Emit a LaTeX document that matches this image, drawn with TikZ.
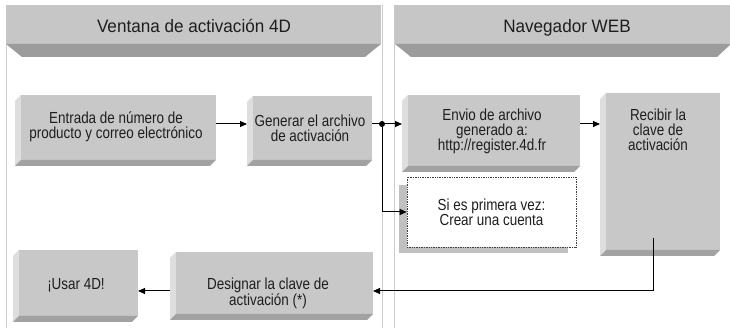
\documentclass[tikz,border=0pt]{standalone}
\usepackage{fontspec}
\setmainfont{Liberation Sans}
\newfontfamily\boxfont[FakeStretch=0.84]{Liberation Sans}
\newfontfamily\hdrfont[FakeStretch=0.95]{Liberation Sans}
\usetikzlibrary{arrows.meta,calc}
\definecolor{frontc}{HTML}{C8C8C8}
\definecolor{leftc}{HTML}{DEDEDE}
\definecolor{bottomc}{HTML}{A2A2A2}
\definecolor{hdrc}{HTML}{C6C6C6}
\definecolor{hdrdark}{HTML}{9C9C9C}
\definecolor{lanec}{HTML}{CBCBCB}
\definecolor{shadowc}{HTML}{C0C0C0}
\definecolor{txtc}{HTML}{1E1E1E}
\definecolor{dotc}{HTML}{404040}
\newcommand{\threedfaces}[1]{%
  \fill[leftc] (#1.south west) -- ($(#1.north west)+(0,-6)$) -- ($(#1.north west)+(6,0)$) -- ($(#1.south west)+(6,6)$) -- cycle;
  \fill[frontc] ($(#1.south west)+(6,6)$) rectangle (#1.north east);
  \fill[bottomc] (#1.south west) -- ($(#1.south west)+(6,6)$) -- ($(#1.south east)+(0,6)$) -- ($(#1.south east)+(-6,0)$) -- cycle;
}
\begin{document}
\begin{tikzpicture}[x=1pt,y=1pt,
  boxnode/.style={inner sep=0pt, outer sep=0pt},
  boxtxt/.style={font=\boxfont\fontsize{16}{15}\selectfont, align=center, text=txtc, inner sep=0pt},
  hdrtxt/.style={font=\hdrfont\fontsize{18}{20}\selectfont, text=txtc, inner sep=0pt, anchor=base},
  lane/.style={draw=lanec, line width=0.8pt},
  conn/.style={draw=black, line width=1pt},
  arr/.style={conn, -{Triangle[length=7pt,width=6pt]}}
]
\useasboundingbox (0,0) rectangle (730,328);
\fill[white] (0,0) rectangle (730,328);
% lane lines
\draw[lane] (6,323) -- (6,0);
\draw[lane] (382,323) -- (382,0);
\draw[lane] (394,323) -- (394,0);
% headers
\fill[hdrc] (6,284) rectangle (381,323);
\fill[hdrdark] (6,284) -- (381,284) -- (365,271) -- (22,271) -- cycle;
\fill[hdrc] (395,284) rectangle (731,323);
\fill[hdrdark] (395,284) -- (731,284) -- (717,271) -- (411,271) -- cycle;
\node[hdrtxt] (h1) at (194,295) {Ventana de activación 4D};
\node[hdrtxt] (h2) at (567,295) {Navegador WEB};
% 3D boxes
\node[boxnode, minimum width=201pt, minimum height=71pt] (entrada) at (115.5,197.5) {};
\node[boxnode, minimum width=125pt, minimum height=70pt] (generar) at (309.5,197) {};
\node[boxnode, minimum width=178pt, minimum height=77pt] (envio) at (491,194.5) {};
\node[boxnode, minimum width=120pt, minimum height=163pt] (recibir) at (660,153.5) {};
\node[boxnode, minimum width=203pt, minimum height=68pt] (designar) at (271.5,42) {};
\node[boxnode, minimum width=125pt, minimum height=72pt] (usar) at (75.5,42) {};
\threedfaces{entrada}
\threedfaces{generar}
\threedfaces{envio}
\threedfaces{recibir}
\threedfaces{designar}
\threedfaces{usar}
\node[boxtxt] (entrada-t) at (116,201) {Entrada de número de\\producto y correo electrónico};
\node[boxtxt] (generar-t) at (310,200) {Generar el archivo\\de activación};
\node[boxtxt] (envio-t) at (492,197) {Envio de archivo\\generado a:\\http://register.4d.fr};
\node[boxtxt] (recibir-t) at (658,198) {Recibir la\\clave de\\activación};
\node[boxtxt] (designar-t) at (268,35) {Designar la clave de\\activación (*)};
\node[boxtxt] (usar-t) at (76,42.5) {¡Usar 4D!};
% first-time box with shadow
\fill[shadowc] (399,143) rectangle (568,75);
\node[boxtxt, fill=white, draw=dotc, line width=0.6pt, dash pattern=on 0.8pt off 0.9pt,
      minimum width=169pt, minimum height=70pt] (first) at (491.5,116) {Si es primera vez:\\Crear una cuenta};
% connectors
\coordinate (r1) at (0,204);
\coordinate (r2) at (0,37);
\coordinate (j) at (382,204);
\coordinate (rb) at ($(recibir.south)+(-7,18)$);
\draw[arr] (entrada.east |- r1) -- (generar.west |- r1);
\draw[conn] (generar.east |- r1) -- (j);
\draw[arr] (j) -- (envio.west |- r1);
\draw[arr] (j) |- (first.west);
\fill (j) circle (3pt);
\draw[arr] (envio.east |- r1) -- (recibir.west |- r1);
\draw[arr] (rb) |- (designar.east |- r2);
\draw[arr] (designar.west |- r2) -- (usar.east |- r2);
\end{tikzpicture}
\end{document}
